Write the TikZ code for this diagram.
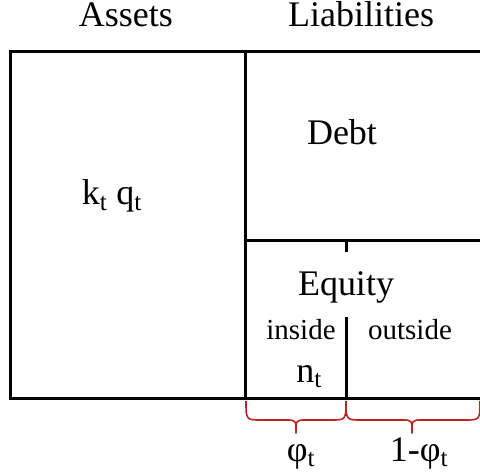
\documentclass[tikz,border=0pt]{standalone}
\usepackage{fontspec}
\setmainfont{Liberation Serif}
\definecolor{bracered}{RGB}{185,35,35}
\begin{document}
\begin{tikzpicture}[x=1pt,y=-1pt,
  big/.style={font=\fontsize{36}{42}\selectfont, inner sep=0pt, anchor=base},
  small/.style={font=\fontsize{29}{34}\selectfont, inner sep=0pt, anchor=base},
  frame/.style={line width=3pt, black},
  bracepath/.style={line width=1.6pt, bracered, line join=round}]
\useasboundingbox (0,0) rectangle (480,476);
% frame
\coordinate (tl) at (10,52);
\coordinate (br) at (490,398);
\draw[frame] (490,52) -- (tl) -- (10,398) -- (490,398);
\draw[frame] (245,52) -- (245,398);
\draw[frame] (245,241) -- (490,241);
\draw[frame] (346,241) -- (346,252);
\draw[frame] (346,317) -- (346,398);
% texts
\node[big] (assets) at (126,27) {Assets};
\node[big] (liab) at (361,27) {Liabilities};
\node[big] (debt) at (342,145) {Debt};
\node[big] (kq) at (112,205) {k\textsubscript{t} q\textsubscript{t}};
\node[big] (equity) at (346,296) {Equity};
\node[small] (inside) at (301,340) {inside};
\node[small] (outside) at (410,340) {outside};
\node[big] (nt) at (309,382) {n\textsubscript{t}};
\node[big] (phi) at (301,461) {φ\textsubscript{t}};
\node[big] (omphi) at (419,461) {1-φ\textsubscript{t}};
% braces
\draw[bracepath] (246,401) .. controls (246,420) and (246,420) .. (262,420)
  -- (286,420) .. controls (296,420) and (296,420) .. (296,433)
  .. controls (296,420) and (296,420) .. (306,420)
  -- (330,420) .. controls (346,420) and (346,420) .. (346,401);
\draw[bracepath] (346,401) .. controls (346,420) and (346,420) .. (362,420)
  -- (402,420) .. controls (412,420) and (412,420) .. (412,433)
  .. controls (412,420) and (412,420) .. (422,420)
  -- (464,420) .. controls (480,420) and (480,420) .. (480,401);
\end{tikzpicture}
\end{document}
